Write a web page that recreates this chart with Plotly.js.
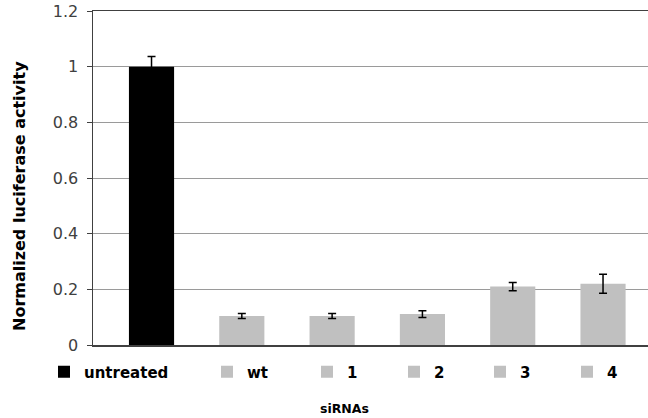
<!DOCTYPE html>
<html>
<head>
<meta charset="utf-8">
<script src="https://cdn.plot.ly/plotly-3.0.1.min.js"></script>
<style>html,body{margin:0;padding:0;background:#fff;}#chart{width:648px;height:418px;}</style>
</head>
<body>
<div id="chart"></div>
<script>
// ---- data ----
const categories = ['untreated', 'wt', '1', '2', '3', '4'];
const values = [1.0, 0.104, 0.104, 0.111, 0.21, 0.22];
const errors = [0.037, 0.009, 0.009, 0.012, 0.015, 0.034];
const yTickValues = [0, 0.2, 0.4, 0.6, 0.8, 1, 1.2];
const yTickLabels = ['0', '0.2', '0.4', '0.6', '0.8', '1', '1.2'];
const xTitle = 'siRNAs';
const yTitle = 'Normalized luciferase activity';

// ---- styling / layout ----
const barColors = ['#000000', '#c0c0c0', '#c0c0c0', '#c0c0c0', '#c0c0c0', '#c0c0c0'];
const legendLeftPx = [62, 225, 325, 412, 498, 585]; // approx left edge of each legend square
const W = 648, H = 418, ML = 93, MR = 0, MT = 11, MB = 73;
const plotW = W - ML - MR, plotH = H - MT - MB;
const font = 'DejaVu Sans, Verdana, sans-serif';

const traces = categories.map((c, i) => ({
  type: 'bar',
  name: c,
  x: [c],
  y: [values[i]],
  width: 0.5,
  marker: {color: barColors[i], line: {width: 0}},
  error_y: {type: 'data', array: [errors[i]], visible: true, color: '#000', thickness: 1.5, width: 4},
  legend: i === 0 ? 'legend' : 'legend' + (i + 1),
  hoverinfo: 'skip'
}));

const layout = {
  width: W, height: H,
  margin: {l: ML, r: MR, t: MT, b: MB, autoexpand: false},
  paper_bgcolor: '#fff', plot_bgcolor: '#fff',
  barmode: 'overlay',
  showlegend: true,
  xaxis: {
    type: 'category', categoryorder: 'array', categoryarray: categories,
    range: [-0.648, 5.498],
    showticklabels: false, ticks: '',
    showline: true, linecolor: '#404040', linewidth: 1.5, mirror: true,
    showgrid: false, zeroline: false, fixedrange: true
  },
  yaxis: {
    range: [0, 1.2001], tickmode: 'array', tickvals: yTickValues, ticktext: yTickLabels,
    ticks: 'outside', ticklen: 5, tickcolor: '#404040', tickwidth: 1,
    ticklabelstandoff: 5,
    tickfont: {family: font, size: 16, color: '#404040'},
    showline: true, linecolor: '#404040', linewidth: 1.5,
    showgrid: true, gridcolor: '#9a9a9a', gridwidth: 1,
    zeroline: false, fixedrange: true
  },
  annotations: [
    {text: '<b>' + yTitle + '</b>', xref: 'paper', yref: 'paper',
     x: (19 - ML) / plotW, y: (MT + plotH - 196) / plotH, xanchor: 'center', yanchor: 'middle',
     textangle: -90, showarrow: false, font: {family: font, size: 16, color: '#000'}},
    {text: '<b>' + xTitle + '</b>', xref: 'paper', yref: 'paper',
     x: (344 - ML) / plotW, y: (MT + plotH - 408) / plotH, xanchor: 'center', yanchor: 'middle',
     showarrow: false, font: {family: font, size: 12.5, color: '#000'}}
  ]
};

categories.forEach((c, i) => {
  const key = i === 0 ? 'legend' : 'legend' + (i + 1);
  layout[key] = {
    orientation: 'h',
    x: (legendLeftPx[i] - 4 - 14 - ML) / plotW,
    xanchor: 'left',
    y: (MT + plotH - 372) / plotH,
    yanchor: 'middle',
    bgcolor: 'rgba(0,0,0,0)', borderwidth: 0,
    font: {family: font, size: 15, color: '#000', weight: 'bold'}
  };
});

Plotly.newPlot('chart', traces, layout, {displayModeBar: false, staticPlot: true});
</script>
</body>
</html>
